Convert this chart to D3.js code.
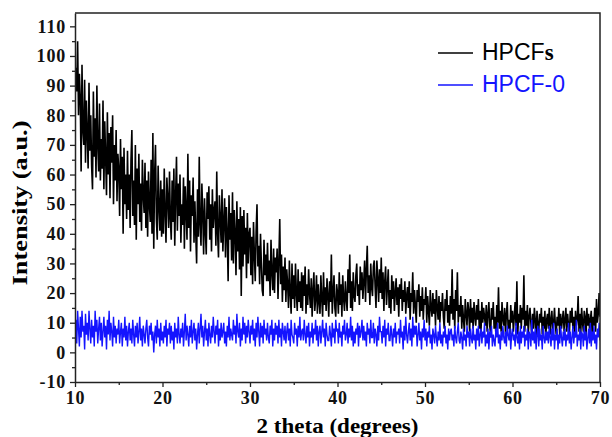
<!DOCTYPE html>
<html>
<head>
<meta charset="utf-8">
<script src="https://cdn.jsdelivr.net/npm/d3@7"></script>
<style>
    body { margin: 0; background: #fff; }
</style>
</head>
<body>
<div id="chart"></div>
<script>
// 2 theta scan: start and step (degrees)
const thetaStart = 10,
    thetaStep = 0.1;

// HPCFs intensity (a.u.), one row per degree
const hpcfs = [
    84, 96, 88, 105, 80, 94, 86, 61, 97, 75,
    70, 92, 64, 85, 74, 62, 91, 68, 80, 63,
    55, 88, 66, 79, 59, 90, 70, 61, 84, 58,
    72, 62, 85, 55, 78, 66, 53, 81, 60, 74,
    52, 76, 64, 80, 50, 70, 58, 75, 51, 67,
    62, 46, 72, 55, 66, 40, 69, 50, 60, 45,
    68, 48, 60, 42, 65, 75, 46, 58, 43, 70,
    38, 62, 50, 67, 44, 57, 41, 65, 53, 47,
    64, 42, 58, 39, 61, 50, 44, 65, 40, 74,
    35, 60, 70, 45, 38, 63, 49, 41, 58, 39,
    55, 40, 62, 47, 37, 59, 52, 42, 61, 45,
    38, 58, 44, 62, 36, 53, 66, 41, 57, 46,
    60, 37, 50, 43, 59, 35, 56, 48, 38, 67,
    42, 58, 34, 53, 46, 59, 37, 51, 40, 30,
    55, 39, 66, 43, 36, 57, 47, 33, 52, 41,
    33, 54, 45, 56, 38, 50, 34, 55, 42, 48,
    51, 36, 61, 40, 32, 53, 45, 37, 55, 34,
    44, 52, 32, 49, 40, 24, 53, 38, 47, 31,
    54, 30, 48, 40, 26, 51, 34, 45, 28, 49,
    19, 46, 29, 48, 33, 42, 25, 47, 30, 40,
    42, 26, 39, 23, 44, 33, 24, 41, 50, 29,
    36, 23, 40, 30, 21, 19, 38, 26, 33, 24,
    37, 24, 31, 19, 38, 27, 21, 35, 20, 32,
    27, 35, 18, 31, 45, 23, 33, 17, 29, 21,
    32, 17, 28, 23, 15, 31, 20, 13, 30, 18,
    26, 15, 30, 20, 14, 28, 17, 24, 15, 27,
    14, 26, 19, 29, 13, 23, 16, 28, 20, 15,
    25, 12, 21, 27, 14, 18, 26, 13, 23, 17,
    13, 26, 18, 12, 27, 16, 22, 14, 25, 19,
    12, 24, 17, 33, 13, 20, 26, 15, 12, 23,
    20, 13, 27, 16, 23, 12, 26, 18, 14, 24,
    18, 14, 28, 20, 33, 15, 24, 14, 27, 19,
    17, 26, 30, 19, 23, 16, 29, 21, 27, 18,
    24, 31, 17, 28, 36, 20, 26, 16, 30, 22,
    19, 29, 31, 22, 15, 31, 25, 17, 28, 20,
    32, 18, 27, 14, 24, 29, 16, 22, 28, 15,
    21, 13, 26, 18, 24, 14, 20, 25, 16, 22,
    12, 23, 18, 25, 14, 21, 17, 24, 13, 19,
    22, 15, 24, 11, 20, 17, 27, 13, 21, 16,
    10, 21, 17, 23, 12, 19, 14, 22, 11, 18,
    16, 22, 10, 19, 14, 9, 21, 15, 12, 20,
    13, 18, 9, 21, 15, 11, 19, 10, 17, 14,
    20, 12, 8, 18, 14, 21, 10, 16, 9, 19,
    13, 28, 11, 18, 8, 21, 14, 27, 10, 16,
    12, 19, 8, 16, 11, 7, 18, 13, 9, 17,
    14, 7, 18, 10, 15, 8, 17, 12, 9, 16,
    11, 18, 8, 14, 7, 17, 10, 15, 12, 9,
    16, 7, 13, 17, 9, 6, 15, 11, 17, 8,
    12, 6, 16, 10, 22, 8, 14, 7, 17, 11,
    9, 15, 6, 13, 17, 8, 11, 6, 16, 10,
    14, 7, 12, 17, 9, 24, 6, 13, 10, 16,
    8, 15, 11, 26, 7, 14, 9, 16, 6, 12,
    15, 10, 6, 13, 8, 15, 11, 5, 14, 9,
    7, 13, 10, 15, 6, 12, 8, 14, 5, 11,
    13, 8, 15, 6, 11, 14, 7, 10, 15, 9,
    6, 12, 9, 15, 5, 13, 8, 11, 14, 7,
    11, 15, 7, 13, 9, 6, 14, 10, 15, 8,
    12, 5, 14, 9, 11, 19, 7, 13, 6, 15,
    10, 7, 14, 12, 5, 15, 9, 13, 8, 11,
    14, 6, 12, 9, 15, 7, 18, 10, 13, 20,
    12
];

// HPCF-0 intensity (a.u.), one row per degree
const hpcf0 = [
    6, 11, 3, 14, 8, 2, 12, 5, 14, 7,
    9, 1, 13, 6, 10, 4, 14, 8, 3, 11,
    5, 9, 2, 14, 7, 11, 3, 8, 12, 4,
    10, 2, 7, 12, 5, 9, 1, 11, 6, 14,
    4, 10, 7, 2, 12, 5, 9, 3, 8, 6,
    11, 3, 7, 10, 2, 8, 5, 12, 4, 9,
    2, 7, 10, 4, 8, 3, 11, 6, 2, 9,
    5, 10, 3, 7, 12, 4, 8, 2, 9, 6,
    3, 8, 11, 5, 2, 9, 6, 10, 4, 7,
    0, 6, 9, 3, 11, 5, 8, 2, 10, 4,
    7, 3, 9, 5, 11, 2, 8, 6, 10, 3,
    9, 4, 7, 1, 10, 5, 8, 3, 12, 6,
    3, 8, 5, 10, 2, 7, 13, 4, 9, 6,
    2, 9, 5, 11, 3, 7, 10, 4, 8, 1,
    6, 10, 3, 8, 13, 5, 9, 2, 7, 11,
    4, 8, 2, 10, 6, 3, 9, 5, 12, 7,
    3, 9, 6, 11, 2, 8, 4, 10, 5, 7,
    10, 3, 7, 2, 9, 5, 12, 4, 8, 6,
    4, 11, 6, 9, 3, 13, 7, 5, 10, 2,
    8, 4, 12, 6, 10, 3, 9, 5, 11, 7,
    3, 9, 6, 11, 4, 8, 2, 10, 5, 12,
    7, 2, 10, 5, 9, 3, 11, 6, 8, 4,
    10, 5, 3, 9, 6, 11, 2, 8, 4, 10,
    6, 9, 3, 11, 5, 8, 2, 10, 7, 4,
    9, 3, 7, 10, 4, 8, 2, 11, 6, 5,
    3, 10, 6, 8, 2, 9, 5, 12, 4, 7,
    8, 4, 11, 6, 3, 9, 5, 10, 2, 7,
    5, 10, 3, 8, 6, 11, 4, 9, 2, 7,
    9, 3, 7, 11, 5, 8, 2, 10, 6, 4,
    4, 9, 6, 2, 10, 5, 8, 3, 11, 7,
    8, 3, 10, 5, 7, 2, 9, 6, 11, 4,
    6, 10, 3, 8, 5, 12, 4, 9, 2, 7,
    3, 8, 6, 10, 2, 9, 5, 7, 11, 4,
    9, 4, 7, 2, 10, 6, 8, 3, 11, 5,
    5, 10, 3, 8, 6, 2, 9, 4, 12, 7,
    7, 3, 9, 5, 11, 2, 8, 6, 10, 4,
    4, 9, 6, 2, 8, 5, 10, 3, 7, 6,
    8, 3, 11, 5, 7, 1, 9, 4, 12, 6,
    3, 7, 10, 4, 8, 2, 12, 5, 9, 6,
    9, 2, 6, 10, 4, 7, 1, 8, 5, 11,
    4, 8, 2, 7, 5, 9, 3, 6, 1, 8,
    6, 3, 9, 5, 2, 7, 4, 10, 3, 6,
    2, 7, 5, 9, 3, 6, 1, 8, 4, 7,
    8, 4, 6, 2, 9, 5, 3, 7, 10, 4,
    3, 7, 5, 1, 8, 4, 6, 2, 9, 5,
    7, 2, 8, 5, 3, 9, 4, 6, 1, 8,
    4, 9, 2, 6, 8, 3, 7, 5, 10, 2,
    6, 3, 8, 1, 7, 5, 9, 2, 6, 4,
    2, 8, 5, 10, 3, 6, 1, 7, 4, 9,
    5, 3, 7, 2, 9, 6, 4, 8, 1, 6,
    8, 4, 6, 2, 10, 5, 3, 7, 1, 9,
    3, 7, 5, 9, 2, 6, 4, 8, 1, 7,
    6, 2, 11, 4, 7, 3, 8, 1, 6, 9,
    2, 8, 4, 6, 1, 9, 5, 3, 7, 4,
    7, 3, 9, 5, 2, 8, 4, 10, 1, 6,
    4, 8, 1, 6, 3, 9, 5, 2, 7, 4,
    8, 2, 6, 4, 10, 3, 7, 1, 5, 9,
    3, 7, 5, 11, 2, 6, 4, 8, 1, 7,
    6, 2, 9, 4, 7, 1, 5, 8, 3, 10,
    2, 7, 4, 9, 3, 6, 1, 8, 5, 10,
    4
];

// ticks and legend
const xTicks = [10, 20, 30, 40, 50, 60, 70];
const yTicks = [-10, 0, 10, 20, 30, 40, 50, 60, 70, 80, 90, 100, 110];
const seriesNames = ["HPCFs", "HPCF-0"];
const seriesColors = ["#000000", "#1414ff"];
const seriesWidths = [1.6, 1.4];

//set dimensions
const width = 612,
    height = 437,
    margin = {
        top: 13,
        right: 12,
        bottom: 55,
        left: 75
    };

// create svg
const svg = d3.select("#chart")
    .append("svg")
    .attr("width", width)
    .attr("height", height);

// create scales
const xScale = d3.scaleLinear()
    .domain([10, 70])
    .range([margin.left, width - margin.right]);

const yScale = d3.scaleLinear()
    .domain([-10, 114.5])
    .range([height - margin.bottom, margin.top]);

// clip for the curves
svg.append("defs").append("clipPath")
    .attr("id", "plot-clip")
    .append("rect")
    .attr("x", margin.left)
    .attr("y", margin.top)
    .attr("width", width - margin.left - margin.right)
    .attr("height", height - margin.top - margin.bottom);

// draw curves, HPCF-0 on top
const line = d3.line()
    .x((d, i) => xScale(thetaStart + i * thetaStep))
    .y(d => yScale(d));

const curves = svg.append("g").attr("clip-path", "url(#plot-clip)");
[hpcfs, hpcf0].forEach((series, k) => {
    curves.append("path")
        .datum(series)
        .attr("fill", "none")
        .attr("stroke", seriesColors[k])
        .attr("stroke-width", seriesWidths[k])
        .attr("d", line);
});

// frame lines top and right
svg.append("path")
    .attr("d", `M${margin.left},${margin.top}H${width - margin.right}V${height - margin.bottom}`)
    .attr("fill", "none")
    .attr("stroke", "#222")
    .attr("stroke-width", 1.5);

// minor ticks
const minorX = d3.range(15, 70, 10);
const minorY = d3.range(-5, 115, 10);

svg.append("g")
    .attr("transform", "translate(0," + (height - margin.bottom) + ")")
    .call(d3.axisBottom(xScale).tickValues(minorX).tickSize(3).tickFormat(""))
    .call(g => g.select(".domain").remove());
svg.append("g")
    .attr("transform", "translate(" + margin.left + ",0)")
    .call(d3.axisLeft(yScale).tickValues(minorY).tickSize(3).tickFormat(""))
    .call(g => g.select(".domain").remove());

// add axes (plain hyphen for negatives)
const xAxis = d3.axisBottom(xScale)
    .tickValues(xTicks)
    .tickFormat(d => String(d))
    .tickSize(5)
    .tickSizeOuter(0)
    .tickPadding(4);
const yAxis = d3.axisLeft(yScale)
    .tickValues(yTicks)
    .tickFormat(d => String(d))
    .tickSize(5)
    .tickSizeOuter(0)
    .tickPadding(4);

svg.append("g")
    .attr("transform", "translate(0," + (height - margin.bottom) + ")")
    .call(xAxis)
    .attr("id", "x-axis");
svg.append("g")
    .attr("transform", "translate(" + margin.left + ",0)")
    .call(yAxis)
    .attr("id", "y-axis");

svg.selectAll(".domain").attr("stroke", "#222").attr("stroke-width", 1.5);
svg.selectAll(".tick line").attr("stroke", "#222").attr("stroke-width", 1.3);
svg.selectAll(".tick text")
    .attr("fill", "#111")
    .attr("font-family", "Liberation Serif, serif")
    .attr("font-weight", "bold")
    .attr("font-size", 18)
    .attr("letter-spacing", "0.8px");

// axis titles
svg.append("text")
    .attr("x", (margin.left + width - margin.right) / 2)
    .attr("y", 433)
    .attr("text-anchor", "middle")
    .attr("font-family", "Liberation Serif, serif")
    .attr("font-weight", "bold")
    .attr("font-size", 21)
    .attr("textLength", 162)
    .attr("lengthAdjust", "spacingAndGlyphs")
    .text("2 theta (degrees)");

svg.append("text")
    .attr("transform", "translate(27,203) rotate(-90)")
    .attr("text-anchor", "middle")
    .attr("font-family", "Liberation Serif, serif")
    .attr("font-weight", "bold")
    .attr("font-size", 20)
    .attr("textLength", 165)
    .attr("lengthAdjust", "spacingAndGlyphs")
    .text("Intensity (a.u.)");

// legend
const legend = svg.append("g").attr("id", "legend");
seriesNames.forEach((name, k) => {
    const ly = 53 + k * 32;
    legend.append("line")
        .attr("x1", 438)
        .attr("x2", 473)
        .attr("y1", ly)
        .attr("y2", ly)
        .attr("stroke", seriesColors[k])
        .attr("stroke-width", 1.5);
    const t = legend.append("text")
        .attr("x", 482)
        .attr("y", ly + 7)
        .attr("font-family", "Liberation Sans, Arial, sans-serif")
        .attr("font-size", 23)
        .attr("fill", seriesColors[k]);
    if (name === "HPCFs") {
        t.append("tspan").text("HPCF");
        t.append("tspan")
            .attr("font-family", "Liberation Serif, serif")
            .attr("font-weight", "bold")
            .text("s");
    } else {
        t.text(name);
    }
});
</script>
</body>
</html>
